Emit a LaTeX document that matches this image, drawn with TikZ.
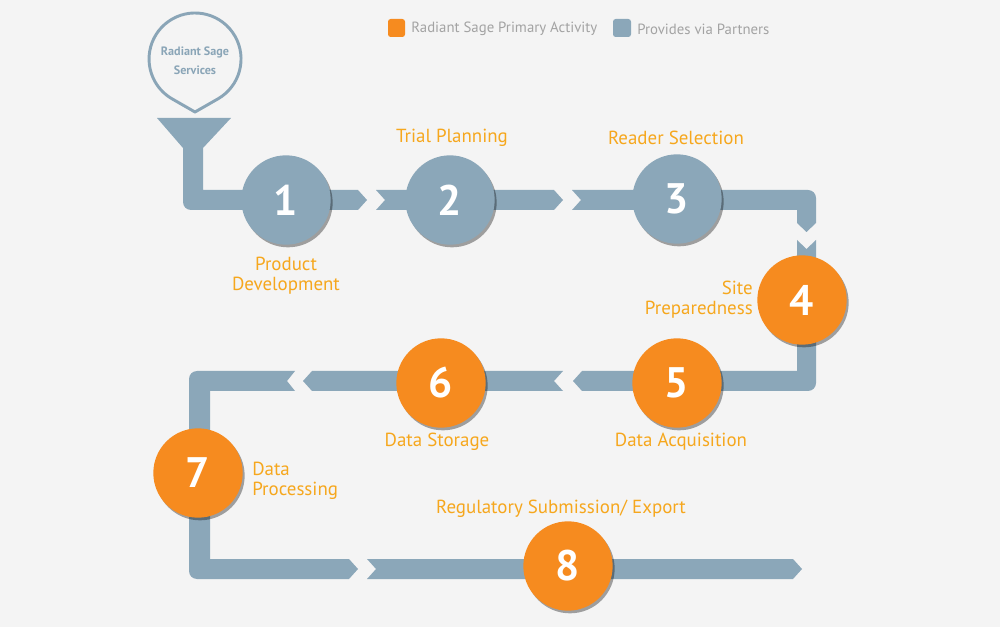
\documentclass[tikz,border=0pt]{standalone}
\usepackage{fontspec}
\setmainfont{PT Sans}
\usetikzlibrary{shadows}
\definecolor{bg}{HTML}{F4F4F4}
\definecolor{band}{HTML}{8BA7B9}
\definecolor{org}{HTML}{F68B1F}
\definecolor{lbl}{HTML}{F6A71D}
\definecolor{leg}{HTML}{A3A3A3}
\definecolor{pincol}{HTML}{8AA5B7}
\begin{document}
\begin{tikzpicture}[x=0.75pt,y=-0.75pt,
  bandshape/.style={fill=band,draw=none},
  stepcircle/.style={circle,minimum size=67pt,inner sep=0pt,text=white,
    font=\fontsize{32}{32}\selectfont\bfseries,
    drop shadow={shadow xshift=1.5pt,shadow yshift=-2pt,opacity=0.35,fill=black}},
  greycirc/.style={stepcircle,fill=band},
  orangecirc/.style={stepcircle,fill=org},
  lab/.style={text=lbl,font=\fontsize{14.2}{15}\selectfont,inner sep=0pt},
  legtext/.style={text=leg,font=\fontsize{11.1}{12}\selectfont,inner sep=0pt,anchor=west},
  legbox/.style={rounded corners=2pt,draw=none}]
\fill[bg] (0,0) rectangle (1000,627);
\useasboundingbox (0,0) rectangle (1000,627);

% legend
\fill[legbox,fill=org] (388,19) rectangle (405,37);
\node[legtext] (lg1) at (411,29) {Radiant Sage Primary Activity};
\fill[legbox,fill=band] (613,19) rectangle (631,37);
\node[legtext] (lg2) at (637,29) {Provides via Partners};

% pin
\draw[pincol,line width=2.2pt,line join=round] (195,112) -- (217.9,98.9)
  arc[start angle=60.2,end angle=-240.2,radius=46] -- cycle;
\node[text=pincol,font=\fontsize{9.1}{14}\selectfont\bfseries,align=center,inner sep=0pt] (pin) at (195,61) {Radiant Sage\\Services};

% funnel + first segment
\fill[bandshape] (157,118) -- (231,118) -- (203,148) -- (203,190) -- (358,190) -- (367,200) -- (358,210)
  [rounded corners=6pt] -- (183,210) [sharp corners] -- (183,148) -- cycle;
% segment 2
\fill[bandshape] (376,190) -- (554,190) -- (563,200) -- (554,210) -- (376,210) -- (385,200) -- cycle;
% segment 3
\fill[bandshape] (572,190) [rounded corners=6pt] -- (816,190) [sharp corners] -- (816,223) -- (806.5,232) -- (797,223)
  -- (797,210) -- (572,210) -- (581,200) -- cycle;
% segment 4
\fill[bandshape] (797,240) -- (806.5,249) -- (816,240) [rounded corners=6pt] -- (816,391) [sharp corners]
  -- (582,391) -- (573,381) -- (582,371) -- (797,371) -- cycle;
% segment 5
\fill[bandshape] (563,371) -- (554,381) -- (563,391) -- (312,391) -- (303,381) -- (312,371) -- cycle;
% segment 6
\fill[bandshape] (295,371) -- (287,381) -- (295,391) -- (210,391) -- (210,559) -- (349,559) -- (358,569)
  -- (349,579) [rounded corners=6pt] -- (189,579) -- (189,371) [sharp corners] -- cycle;
% segment 7
\fill[bandshape] (367,559) -- (793,559) -- (802,569) -- (793,579) -- (367,579) -- (376,569) -- cycle;

% circles
\node[greycirc] (c1) at (286,200) {1};
\node[greycirc] (c2) at (450,200) {2};
\node[greycirc] (c3) at (677,199) {3};
\node[orangecirc] (c4) at (802,300) {4};
\node[orangecirc] (c5) at (677,383) {5};
\node[orangecirc] (c6) at (441,383) {6};
\node[orangecirc] (c7) at (198,473) {7};
\node[orangecirc] (c8) at (568,566) {8};

% labels
\node[lab] (l1) at (286,276) [align=center] {Product\\Development};
\node[lab] (l2) at (452,138) {Trial Planning};
\node[lab] (l3) at (676,138) {Reader Selection};
\node[lab,anchor=east,align=right] (l4) at (753,300) {Site\\Preparedness};
\node[lab] (l5) at (681,442) {Data Acquisition};
\node[lab] (l6) at (437,442) {Data Storage};
\node[lab,anchor=west,align=left] (l7) at (252,481) {Data\\Processing};
\node[lab] (l8) at (561,509) {Regulatory Submission/ Export};
\end{tikzpicture}
\end{document}
